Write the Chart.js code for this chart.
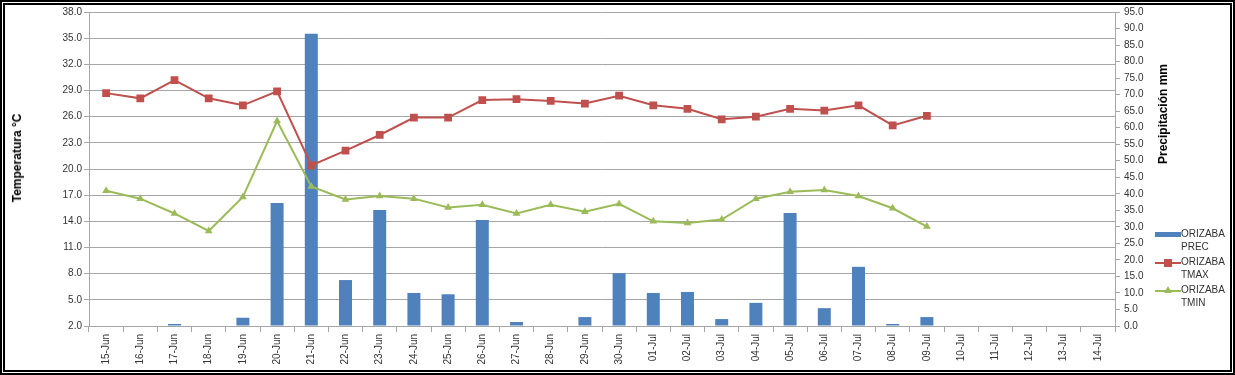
<!DOCTYPE html>
<html>
<head>
<meta charset="utf-8">
<script src="https://cdn.jsdelivr.net/npm/chart.js@4.4.1/dist/chart.umd.min.js"></script>
<style>
  html, body { margin: 0; padding: 0; background: #fff; }
  #wrap { position: relative; width: 1235px; height: 375px; font-family: "Liberation Sans", Arial, sans-serif; }
  #frame { position: absolute; left: 0; top: 0; width: 1235px; height: 375px; box-sizing: border-box; border: 5px double #000; pointer-events: none; }
  canvas { position: absolute; left: 0; top: 0; }
  .ytitle { position: absolute; font-weight: bold; font-size: 12px; color: #000; white-space: nowrap; transform: translate(-50%, -50%) rotate(-90deg); }
  #legend { position: absolute; left: 1155px; top: 227px; font-size: 10px; color: #333; }
  .item { position: relative; height: 28px; }
  .sym { position: absolute; left: 0; top: 2px; width: 26px; height: 10px; }
  .txt { position: absolute; left: 26px; top: 0; line-height: 13px; }
</style>
</head>
<body>
<div id="wrap">
  <canvas id="chart" width="1235" height="375"></canvas>
  <div class="ytitle" style="left:17px; top:158px;">Temperatura °C</div>
  <div class="ytitle" style="left:1163px; top:114px;">Precipitación mm</div>
  <div id="legend"></div>
  <div id="frame"></div>
</div>
<script>
const categories = [
  '15-Jun', '16-Jun', '17-Jun', '18-Jun', '19-Jun', '20-Jun', '21-Jun', '22-Jun', '23-Jun', '24-Jun',
  '25-Jun', '26-Jun', '27-Jun', '28-Jun', '29-Jun', '30-Jun', '01-Jul', '02-Jul', '03-Jul', '04-Jul',
  '05-Jul', '06-Jul', '07-Jul', '08-Jul', '09-Jul', '10-Jul', '11-Jul', '12-Jul', '13-Jul', '14-Jul'
];

// precipitacion (mm), eje derecho
const precValues = [
  0, 0, 0.6, 0, 2.5, 37.2, 88.4, 13.9, 35.1, 10.0,
  9.6, 32.1, 1.2, 0, 2.7, 16.0, 10.0, 10.3, 2.1, 7.0,
  34.2, 5.4, 17.9, 0.6, 2.7, null, null, null, null, null
];

// temperaturas (°C), eje izquierdo
const tmaxValues = [
  28.7, 28.1, 30.2, 28.1, 27.3, 28.9, 20.4, 22.1, 23.9, 25.9,
  25.9, 27.9, 28.0, 27.8, 27.5, 28.4, 27.3, 26.9, 25.7, 26.0,
  26.9, 26.7, 27.3, 25.0, 26.1, null, null, null, null, null
];
const tminValues = [
  17.5, 16.6, 14.9, 12.9, 16.8, 25.5, 18.0, 16.5, 16.9, 16.6,
  15.6, 15.9, 14.9, 15.9, 15.1, 16.0, 14.0, 13.8, 14.2, 16.6,
  17.4, 17.6, 16.9, 15.5, 13.4, null, null, null, null, null
];

const seriesNames = [['ORIZABA', 'PREC'], ['ORIZABA', 'TMAX'], ['ORIZABA', 'TMIN']];
const seriesColors = ['#4f81bd', '#c0504d', '#9bbb59'];

const tickFont = { family: '"Liberation Sans", Arial, sans-serif', size: 10 };
const tickColor = '#333';
const gridColor = '#a6a6a6';

new Chart(document.getElementById('chart'), {
  type: 'bar',
  data: {
    labels: categories,
    datasets: [
      {
        type: 'bar',
        label: seriesNames[0].join(' '),
        data: precValues,
        yAxisID: 'yPrec',
        backgroundColor: seriesColors[0],
        barPercentage: 0.38,
        categoryPercentage: 1,
        order: 2
      },
      {
        type: 'line',
        label: seriesNames[1].join(' '),
        data: tmaxValues,
        yAxisID: 'yTemp',
        borderColor: seriesColors[1],
        backgroundColor: seriesColors[1],
        borderWidth: 2,
        pointStyle: 'rect',
        pointRadius: 5.5,
        pointBorderWidth: 0,
        tension: 0,
        order: 1
      },
      {
        type: 'line',
        label: seriesNames[2].join(' '),
        data: tminValues,
        yAxisID: 'yTemp',
        borderColor: seriesColors[2],
        backgroundColor: seriesColors[2],
        borderWidth: 2,
        pointStyle: 'triangle',
        pointRadius: 4.5,
        pointBorderWidth: 0,
        tension: 0,
        order: 0
      }
    ]
  },
  options: {
    responsive: false,
    animation: false,
    layout: { padding: { top: 12, left: 0, right: 0, bottom: 0 } },
    plugins: {
      legend: { display: false },
      tooltip: { enabled: false }
    },
    scales: {
      x: {
        offset: true,
        afterFit: (scale) => { scale.height = 49; },
        grid: {
          offset: true,
          drawOnChartArea: false,
          drawTicks: true,
          tickLength: 6,
          color: gridColor
        },
        border: { color: gridColor },
        ticks: {
          font: tickFont,
          color: tickColor,
          minRotation: 90,
          maxRotation: 90,
          autoSkip: false,
          padding: 2
        }
      },
      yTemp: {
        position: 'left',
        min: 2,
        max: 38,
        afterFit: (scale) => { scale.width = 89; },
        grid: { color: gridColor, tickLength: 5 },
        border: { color: gridColor },
        ticks: {
          stepSize: 3,
          font: tickFont,
          color: tickColor,
          padding: 2,
          callback: (v) => v.toFixed(1)
        }
      },
      yPrec: {
        position: 'right',
        min: 0,
        max: 95,
        afterFit: (scale) => { scale.width = 120; },
        grid: { drawOnChartArea: false, color: gridColor, tickLength: 5 },
        border: { color: gridColor },
        ticks: {
          stepSize: 5,
          font: tickFont,
          color: tickColor,
          padding: 4,
          callback: (v) => v.toFixed(1)
        }
      }
    }
  }
});

// leyenda a la derecha, como en Excel
const legend = document.getElementById('legend');
const symbols = [
  (c) => `<div style="position:absolute;left:0;top:3px;width:26px;height:5px;background:${c}"></div>`,
  (c) => `<div style="position:absolute;left:0;top:5px;width:26px;height:2px;background:${c}"></div>
          <div style="position:absolute;left:9px;top:2px;width:8px;height:8px;background:${c}"></div>`,
  (c) => `<div style="position:absolute;left:0;top:5px;width:26px;height:2px;background:${c}"></div>
          <div style="position:absolute;left:9px;top:1px;width:0;height:0;border-left:4px solid transparent;border-right:4px solid transparent;border-bottom:7px solid ${c}"></div>`
];
legend.innerHTML = seriesNames.map((name, i) => `
  <div class="item">
    <div class="sym">${symbols[i](seriesColors[i])}</div>
    <div class="txt">${name.join('<br>')}</div>
  </div>
`).join('');
</script>
</body>
</html>
